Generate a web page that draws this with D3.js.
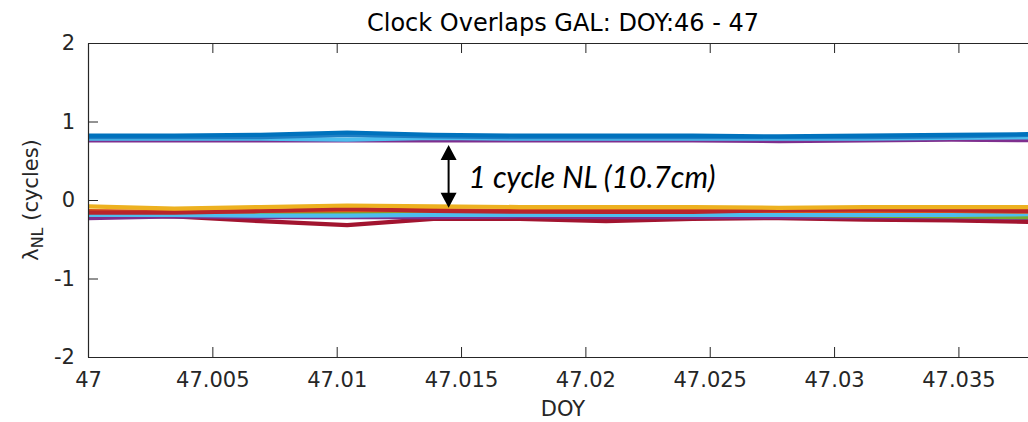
<!DOCTYPE html>
<html>
<head>
<meta charset="utf-8">
<script src="https://cdn.jsdelivr.net/npm/d3@7"></script>
<style>
  html, body { margin: 0; background: #fff; overflow: hidden; width: 1028px; }
  svg { display: block; font-family: "DejaVu Sans", sans-serif; }
</style>
</head>
<body>
<div id="my_dataviz"></div>
<script>
// epochs (DOY), 5 min apart
var epochs = [47, 47.00347, 47.00694, 47.01042, 47.01389, 47.01736,
              47.02083, 47.02431, 47.02778, 47.03125, 47.03472, 47.03819];

// series near +0.8 cycles
var topBlueA   = [0.82, 0.82, 0.83, 0.86, 0.83, 0.82, 0.82, 0.82, 0.81, 0.82, 0.83, 0.84];
var topBlueB   = [0.80, 0.80, 0.80, 0.83, 0.81, 0.80, 0.80, 0.80, 0.80, 0.80, 0.81, 0.83];
var topCyan    = [0.78, 0.78, 0.78, 0.77, 0.79, 0.78, 0.78, 0.78, 0.78, 0.78, 0.79, 0.80];
var topPurple  = [0.76, 0.76, 0.76, 0.76, 0.76, 0.76, 0.76, 0.76, 0.75, 0.76, 0.77, 0.76];

// series near -0.15 cycles
var botDarkRed = [-0.20, -0.21, -0.27, -0.32, -0.24, -0.24, -0.27, -0.24, -0.23, -0.25, -0.26, -0.28];
var botPurple  = [-0.23, -0.21, -0.22, -0.22, -0.22, -0.21, -0.22, -0.22, -0.22, -0.22, -0.22, -0.23];
var botGreen   = [-0.18, -0.18, -0.18, -0.18, -0.18, -0.18, -0.18, -0.19, -0.19, -0.20, -0.21, -0.22];
var botCyan    = [-0.19, -0.19, -0.20, -0.20, -0.19, -0.19, -0.19, -0.19, -0.19, -0.19, -0.19, -0.18];
var botOrange  = [-0.14, -0.15, -0.14, -0.13, -0.13, -0.14, -0.14, -0.14, -0.14, -0.14, -0.14, -0.15];
var botRed     = [-0.16, -0.16, -0.14, -0.11, -0.14, -0.15, -0.15, -0.15, -0.13, -0.12, -0.13, -0.14];
var botYellow  = [-0.08, -0.11, -0.09, -0.07, -0.08, -0.09, -0.09, -0.09, -0.10, -0.09, -0.09, -0.09];

var xTicks = [47, 47.005, 47.01, 47.015, 47.02, 47.025, 47.03, 47.035];
var yTicks = [-2, -1, 0, 1, 2];

var seriesList = [
  {values: topPurple,  color: "#7E2F8E"},
  {values: topCyan,    color: "#4DBEEE"},
  {values: topBlueB,   color: "#1f7fc4"},
  {values: topBlueA,   color: "#0072BD"},
  {values: botDarkRed, color: "#A2142F"},
  {values: botPurple,  color: "#7E2F8E"},
  {values: botGreen,   color: "#77AC30"},
  {values: botCyan,    color: "#4DBEEE"},
  {values: botOrange,  color: "#D95319"},
  {values: botRed,     color: "#B8252B"},
  {values: botYellow,  color: "#EDB120"}
];

// plot box (right edge runs past the window)
var margin = {top: 43, left: 88},
    width = 950,
    height = 314;

var svg = d3.select("#my_dataviz")
  .append("svg")
    .attr("width", 1060)
    .attr("height", 422);

var x = d3.scaleLinear()
  .domain([47, 47.0382])
  .range([margin.left, margin.left + width]);

var y = d3.scaleLinear()
  .domain([-2, 2])
  .range([margin.top + height, margin.top]);

svg.append("clipPath")
  .attr("id", "plotclip")
  .append("rect")
    .attr("x", margin.left)
    .attr("y", margin.top)
    .attr("width", width)
    .attr("height", height);

// lines
var line = d3.line()
  .x(function(d, i) { return x(epochs[i]); })
  .y(function(d) { return y(d); });

svg.append("g")
  .attr("clip-path", "url(#plotclip)")
  .selectAll("path")
  .data(seriesList)
  .enter()
  .append("path")
    .attr("fill", "none")
    .attr("stroke", function(d) { return d.color; })
    .attr("stroke-width", 4.2)
    .attr("stroke-linejoin", "round")
    .attr("d", function(d) { return line(d.values); });

// axes (MATLAB style: ticks inside)
var axisColor = "#262626";

var xAxis = svg.append("g")
  .attr("transform", "translate(0," + (margin.top + height) + ")")
  .call(d3.axisBottom(x).tickValues(xTicks).tickSizeInner(-10).tickSizeOuter(0)
    .tickFormat(function(d) { return String(+d.toFixed(3)); }));

var yAxis = svg.append("g")
  .attr("transform", "translate(" + margin.left + ",0)")
  .call(d3.axisLeft(y).tickValues(yTicks).tickSizeInner(-10).tickSizeOuter(0).tickPadding(13)
    .tickFormat(function(d) { return String(d); }));

svg.append("g")
  .attr("transform", "translate(0," + margin.top + ")")
  .call(d3.axisTop(x).tickValues(xTicks).tickSizeInner(-10).tickSizeOuter(0).tickFormat(""));

svg.selectAll(".domain").attr("stroke", axisColor).attr("stroke-width", 1.2);
svg.selectAll(".tick line").attr("stroke", axisColor).attr("stroke-width", 1);
svg.selectAll(".tick text")
  .attr("fill", axisColor)
  .style("font-size", "21px")
  .style("font-family", "DejaVu Sans");
xAxis.selectAll(".tick text").attr("dy", "0.71em").attr("y", 15);

// title
svg.append("text")
  .attr("x", margin.left + width / 2)
  .attr("y", 31)
  .attr("text-anchor", "middle")
  .style("font-size", "24px")
  .attr("fill", "#000")
  .text("Clock Overlaps GAL: DOY:46 - 47");

// x label
svg.append("text")
  .attr("x", margin.left + width / 2)
  .attr("y", 416)
  .attr("text-anchor", "middle")
  .style("font-size", "21px")
  .attr("fill", axisColor)
  .text("DOY");

// y label with subscript
var yl = svg.append("text")
  .attr("transform", "translate(38," + (margin.top + height / 2) + ") rotate(-90)")
  .attr("text-anchor", "middle")
  .style("font-size", "21px")
  .attr("fill", axisColor);
yl.append("tspan").text("\u03bb");
yl.append("tspan").attr("dy", 5).style("font-size", "16px").text("NL");
yl.append("tspan").attr("dy", -5).text(" (cycles)");

// annotation arrow: one NL cycle
var arrowX = 47.0145, arrowTop = 0.70, arrowBot = -0.10;
var head = 15, headW = 8;
svg.append("line")
  .attr("x1", x(arrowX)).attr("x2", x(arrowX))
  .attr("y1", y(arrowTop) + head - 1).attr("y2", y(arrowBot) - head + 1)
  .attr("stroke", "#000").attr("stroke-width", 2);
svg.append("path")
  .attr("d", "M" + x(arrowX) + "," + y(arrowTop) +
             "L" + (x(arrowX) - headW) + "," + (y(arrowTop) + head) +
             "L" + (x(arrowX) + headW) + "," + (y(arrowTop) + head) + "Z")
  .attr("fill", "#000");
svg.append("path")
  .attr("d", "M" + x(arrowX) + "," + y(arrowBot) +
             "L" + (x(arrowX) - headW) + "," + (y(arrowBot) - head) +
             "L" + (x(arrowX) + headW) + "," + (y(arrowBot) - head) + "Z")
  .attr("fill", "#000");

svg.append("text")
  .attr("x", x(47.0153))
  .attr("y", 188)
  .style("font-family", "Lato, 'Open Sans', sans-serif")
  .style("font-style", "italic")
  .style("font-size", "30px")
  .attr("fill", "#000")
  .text("1 cycle NL (10.7cm)");
</script>
</body>
</html>
